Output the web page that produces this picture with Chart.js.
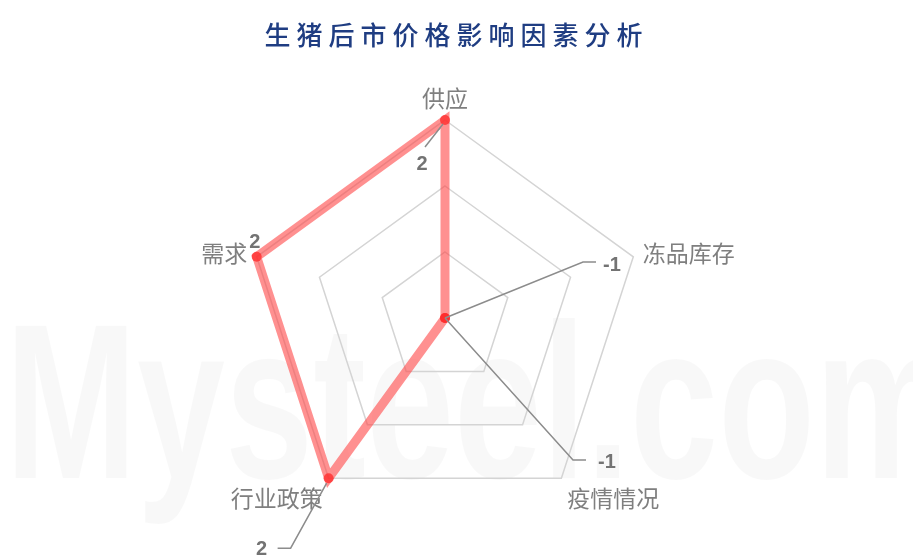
<!DOCTYPE html>
<html>
<head>
<meta charset="utf-8">
<script src="https://cdn.jsdelivr.net/npm/chart.js@4/dist/chart.umd.min.js"></script>
<style>
  body { margin:0; background:#fff; }
  #wrap { position:relative; width:913px; height:560px; }
  #title {
    position:absolute; left:0; top:15px; width:913px; text-align:center;
    font-family:"Noto Sans CJK SC", sans-serif; font-size:26px; font-weight:500;
    letter-spacing:6px; color:#1f3d82;
  }
</style>
</head>
<body>
<div id="wrap">
  <canvas id="myChart" width="913" height="560"></canvas>
  <div id="title">生猪后市价格影响因素分析</div>
</div>
<script>
let labels = ['供应', '冻品库存', '疫情情况', '行业政策', '需求'];
let values = [2, -1, -1, 2, 2];
let tickMin = -1, tickMax = 2, tickStep = 1;

// label offsets from each point (dx, dy) and leader elbow
let labelOffsets = [
    {dx:-23, dy:44, line:[[-2,4],[-20,27]]},
    {dx:167, dy:-53, line:[[0,0],[138,-56],[151,-56]]},
    {dx:162, dy:144, line:[[0,0],[128,142],[141,142]]},
    {dx:-67, dy:71, line:[[-2,5],[-38,70],[-51,70]]},
    {dx:-2, dy:-14, line:null}
];

const watermark = {
    id:'watermark',
    beforeDraw(chart){
        const ctx = chart.ctx;
        ctx.save();
        ctx.fillStyle = 'rgba(0,0,0,0.028)';
        ctx.font = 'bold 220px "Liberation Sans", sans-serif';
        ctx.textBaseline = 'alphabetic';
        ctx.translate(5, 478);
        ctx.scale(0.72, 1);
        ctx.fillText('Mysteel.com', 0, 0);
        ctx.restore();
    }
};

const pointLabelsPlugin = {
    id:'myPointLabels',
    afterDraw(chart){
        const ctx = chart.ctx;
        const scale = chart.scales.r;
        ctx.save();
        ctx.font = '23px "Noto Sans CJK SC", sans-serif';
        ctx.fillStyle = '#7f7f7f';
        labels.forEach((lab, i) => {
            const p = scale.getPointPosition(i, scale.drawingArea + 10);
            const deg = Math.round(i * 360 / labels.length);
            let align = 'left', base = 'middle';
            if (deg === 0) { align = 'center'; base = 'bottom'; }
            else if (deg < 180) { align = 'left'; base = deg > 90 ? 'top' : 'middle'; }
            else { align = 'right'; base = deg < 270 ? 'top' : 'middle'; }
            ctx.textAlign = align;
            ctx.textBaseline = base;
            ctx.fillText(lab, p.x, p.y);
        });

        // data labels with leader lines
        const meta = chart.getDatasetMeta(0);
        meta.data.forEach((pt, i) => {
            const o = labelOffsets[i];
            if (o.line) {
                ctx.strokeStyle = '#8c8c8c';
                ctx.lineWidth = 1.5;
                ctx.beginPath();
                o.line.forEach((q, k) => {
                    if (k === 0) ctx.moveTo(pt.x + q[0], pt.y + q[1]);
                    else ctx.lineTo(pt.x + q[0], pt.y + q[1]);
                });
                ctx.stroke();
            }
            ctx.font = 'bold 20px "Liberation Sans", sans-serif';
            ctx.fillStyle = '#737373';
            ctx.textAlign = 'center';
            ctx.textBaseline = 'middle';
            ctx.fillText(String(values[i]), pt.x + o.dx, pt.y + o.dy);
        });
        ctx.restore();
    }
};

var ctx = document.getElementById('myChart').getContext('2d');
var chart = new Chart(ctx, {
    type: 'radar',
    data: {
        labels: labels,
        datasets: [{
            label: '影响因素',
            data: values,
            fill: false,
            borderColor: 'rgba(255, 70, 70, 0.6)',
            borderWidth: 9,
            pointRadius: 5,
            pointBorderWidth: 0,
            pointBackgroundColor: 'rgba(255, 40, 40, 0.75)'
        }]
    },
    options: {
        responsive: false,
        animation: false,
        plugins: {
            legend: { display: false },
            tooltip: { enabled: false }
        },
        scales: {
            r: {
                min: tickMin,
                max: tickMax,
                ticks: { display: false, stepSize: tickStep },
                angleLines: { display: false },
                grid: { color: '#d4d4d4', lineWidth: 1.5 },
                pointLabels: { display: false },
                afterFit: function (scale) {
                    scale.xCenter = 445;
                    scale.yCenter = 318;
                    scale.drawingArea = 198;
                }
            }
        }
    },
    plugins: [watermark, pointLabelsPlugin]
});
</script>
</body>
</html>
